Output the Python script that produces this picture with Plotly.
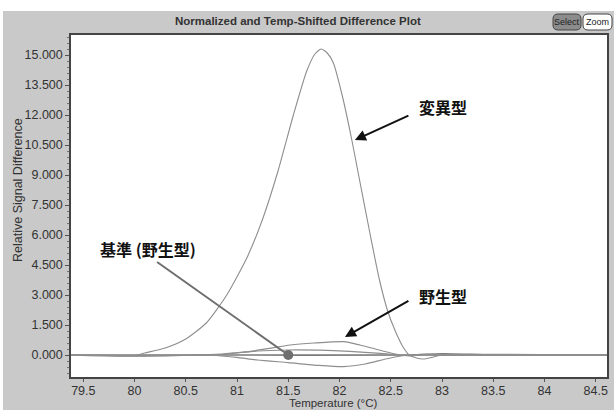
import plotly.graph_objects as go

# Melt difference curves (temperature in °C, relative signal difference)
mutant_t = [79.38, 79.7, 80.0, 80.1, 80.3, 80.5, 80.7, 80.9, 81.1, 81.25, 81.4, 81.55,
            81.68, 81.76, 81.82, 81.88, 81.94, 82.03, 82.12, 82.19, 82.3, 82.39, 82.47,
            82.54, 82.62, 82.68, 82.75, 82.82, 82.9, 83.0, 84.61]
mutant_v = [0.0, 0.0, -0.03, 0.1, 0.35, 0.8, 1.6, 3.0, 4.9, 6.8, 9.2, 12.0,
            14.2, 15.05, 15.3, 15.1, 14.6, 12.9, 10.75, 8.9, 6.0, 3.75, 2.2,
            1.25, 0.4, 0.0, -0.15, -0.2, -0.12, 0.0, 0.0]

wild_t = [79.38, 80.6, 80.85, 81.0, 81.13, 81.3, 81.52, 81.75, 82.04, 82.2, 82.35,
          82.5, 82.6, 82.7, 82.85, 83.0, 84.61]
wild_v = [0.0, 0.0, 0.05, 0.12, 0.18, 0.32, 0.5, 0.6, 0.67, 0.5, 0.3,
          0.1, 0.0, -0.05, 0.03, 0.0, 0.0]

sample2_t = [79.38, 80.8, 81.0, 81.2, 81.5, 81.8, 82.1, 82.4, 82.6, 84.61]
sample2_v = [0.0, 0.0, 0.1, 0.2, 0.25, 0.24, 0.18, 0.08, 0.0, 0.0]

sample3_t = [79.38, 80.7, 80.85, 81.0, 81.2, 81.5, 81.8, 82.04, 82.25, 82.45, 82.6,
             82.7, 82.8, 83.0, 84.61]
sample3_v = [0.0, 0.0, -0.05, -0.12, -0.25, -0.38, -0.52, -0.58, -0.45, -0.2, -0.05,
             0.0, 0.03, 0.0, 0.0]

reference_t = [79.38, 79.9, 80.3, 80.6, 82.7, 83.0, 83.5, 84.61]
reference_v = [0.0, -0.05, -0.03, 0.0, 0.0, 0.06, 0.0, 0.0]

reference_point_t = [81.5]
reference_point_v = [0.0]

x_ticks = [79.5, 80, 80.5, 81, 81.5, 82, 82.5, 83, 83.5, 84, 84.5]
x_tick_text = ["79.5", "80", "80.5", "81", "81.5", "82", "82.5", "83", "83.5", "84", "84.5"]
y_ticks = [0, 1.5, 3, 4.5, 6, 7.5, 9, 10.5, 12, 13.5, 15]

X_RANGE = [79.38, 84.61]
Y_RANGE = [-1.1, 16.0]

# layout geometry (px)
W, H = 614, 410
ML, MR, MT, MB = 71, 7, 35, 33
PW, PH = W - ML - MR, H - MT - MB


def px(xp):
    return (xp - ML) / PW


def py(yp):
    return (H - MB - yp) / PH


fig = go.Figure()

line_gray = "#8e8e8e"
curve = dict(shape="spline", smoothing=0.6)
fig.add_trace(go.Scatter(x=reference_t, y=reference_v, mode="lines",
                         line=dict(color="#7a7a7a", width=1.6, **curve), hoverinfo="skip"))
fig.add_trace(go.Scatter(x=sample3_t, y=sample3_v, mode="lines",
                         line=dict(color=line_gray, width=1.2, **curve), hoverinfo="skip"))
fig.add_trace(go.Scatter(x=sample2_t, y=sample2_v, mode="lines",
                         line=dict(color=line_gray, width=1.2, **curve), hoverinfo="skip"))
fig.add_trace(go.Scatter(x=wild_t, y=wild_v, mode="lines",
                         line=dict(color=line_gray, width=1.2, **curve), hoverinfo="skip"))
fig.add_trace(go.Scatter(x=mutant_t, y=mutant_v, mode="lines",
                         line=dict(color=line_gray, width=1.1, **curve), hoverinfo="skip"))

# pointer line from the reference label to its curve
fig.add_trace(go.Scatter(x=[80.22, reference_point_t[0]], y=[4.65, reference_point_v[0]],
                         mode="lines", line=dict(color="#6e6e6e", width=2), hoverinfo="skip"))
fig.add_trace(go.Scatter(x=reference_point_t, y=reference_point_v, mode="markers",
                         marker=dict(color="#6e6e6e", size=10), hoverinfo="skip"))

jp_font = dict(family="Noto Sans CJK JP", size=16, color="#111")
centered = dict(xanchor="center", yanchor="middle", showarrow=False)
small_font = dict(family="Liberation Sans Narrow, Liberation Sans", size=9, color="#222")
annotations = [
    dict(x=83.01, y=12.4, text="<b>変異型</b>", font=jp_font, **centered),
    dict(x=83.01, y=2.95, text="<b>野生型</b>", font=jp_font, **centered),
    dict(x=80.13, y=5.3, text="<b>基準 (野生型)</b>", font=jp_font, **centered),
    dict(x=82.15, y=10.75, ax=82.687, ay=12.0, axref="x", ayref="y", text="",
         showarrow=True, arrowhead=2, arrowsize=1.1, arrowwidth=2, arrowcolor="#111"),
    dict(x=82.053, y=0.9, ax=82.687, ay=2.75, axref="x", ayref="y", text="",
         showarrow=True, arrowhead=2, arrowsize=1.1, arrowwidth=2, arrowcolor="#111"),
    dict(xref="paper", yref="paper", x=px(298), y=py(21),
         text="<b>Normalized and Temp-Shifted Difference Plot</b>",
         font=dict(family="Liberation Sans", size=11.5, color="#333"), **centered),
    dict(xref="paper", yref="paper", x=px(567), y=py(22), text="Select", font=small_font,
         **centered),
    dict(xref="paper", yref="paper", x=px(597.5), y=py(22), text="Zoom", font=small_font,
         **centered),
    # axis titles
    dict(xref="paper", yref="paper", x=px(333), y=py(403), text="Temperature (°C)",
         font=dict(family="Liberation Sans", size=11.5, color="#333"), **centered),
    dict(xref="paper", yref="paper", x=px(18), y=py(190), text="Relative Signal Difference",
         textangle=-90, font=dict(family="Liberation Sans", size=12.5, color="#333"),
         **centered),
]


def rounded_rect(x0, y0, x1, y1, r):
    # rounded rectangle path in paper coordinates from pixel corners
    rx, ry = r / PW, r / PH
    a, b, c, d = px(x0), py(y1), px(x1), py(y0)
    return (f"M {a+rx},{b} L {c-rx},{b} Q {c},{b} {c},{b+ry} L {c},{d-ry} "
            f"Q {c},{d} {c-rx},{d} L {a+rx},{d} Q {a},{d} {a},{d-ry} L {a},{b+ry} "
            f"Q {a},{b} {a+rx},{b} Z")


shapes = [
    # white margins around the gray panel
    dict(type="rect", xref="paper", yref="paper", x0=px(0), x1=px(W), y0=py(11), y1=py(0),
         fillcolor="white", line=dict(width=0), layer="below"),
    dict(type="rect", xref="paper", yref="paper", x0=px(0), x1=px(3), y0=py(H), y1=py(0),
         fillcolor="white", line=dict(width=0), layer="below"),
    dict(type="path", xref="paper", yref="paper", path=rounded_rect(553, 14, 581, 30, 5),
         fillcolor="#8c8c8c", line=dict(color="#444", width=1)),
    dict(type="path", xref="paper", yref="paper", path=rounded_rect(583, 14, 612, 30, 5),
         fillcolor="white", line=dict(color="#444", width=1)),
]

axis_font = dict(family="Liberation Sans", size=12.5, color="#333")
fig.update_layout(
    width=W, height=H,
    margin=dict(l=ML, r=MR, t=MT, b=MB, autoexpand=False),
    paper_bgcolor="#c9c9c9",
    plot_bgcolor="white",
    showlegend=False,
    annotations=annotations,
    shapes=shapes,
    xaxis=dict(range=X_RANGE, tickvals=x_ticks, ticktext=x_tick_text, ticks="outside",
               ticklen=3, tickcolor="#555", tickfont=axis_font, showgrid=False, zeroline=False,
               showline=True, linecolor="#444", linewidth=1.5, mirror=True, automargin=False,
               ticklabelstandoff=-2),
    yaxis=dict(range=Y_RANGE, tickvals=y_ticks, tickformat=".3f", ticks="outside",
               ticklen=4, tickcolor="#555", tickfont=axis_font, showgrid=False, zeroline=False,
               showline=True, linecolor="#444", linewidth=1.5, mirror=True, automargin=False,
               minor=dict(ticks="outside", ticklen=2, dtick=0.3, tickcolor="#777")),
)

fig.write_html("out.html")
